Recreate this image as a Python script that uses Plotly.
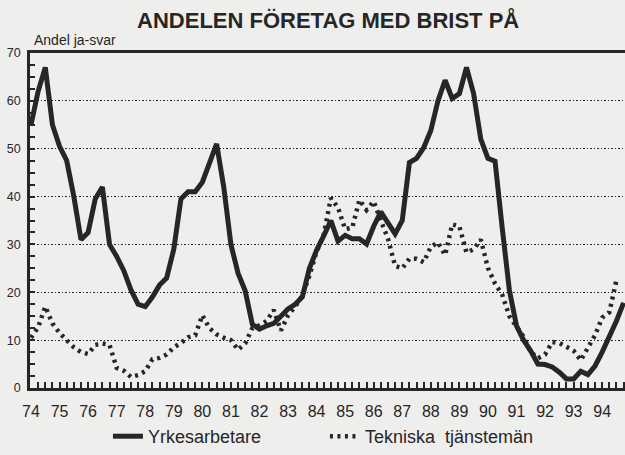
import plotly.graph_objects as go

# Quarterly observations 1974Q1 .. 1994Q4
years = list(range(74, 95))
tick_labels = [str(y) for y in years]
quarters = [y + q * 0.25 for y in years for q in range(4)]

yrkesarbetare = [
    55, 62, 67, 55, 50.5, 47.5, 40, 31, 32.5, 39.5, 42, 30,
    27.5, 24.5, 20.5, 17.5, 17, 19, 21.5, 23, 29, 39.5, 41, 41,
    43, 47, 51, 42, 30, 24, 20.3, 13.3, 12.3, 13, 13.5, 15,
    16.5, 17.5, 19, 25, 28.8, 31.8, 35, 30.7, 31.9, 31.2, 31.2, 30.1,
    33.8, 36.8, 34.3, 32.2, 35, 47.1, 48, 50.2, 53.8, 60, 64.3, 60.5,
    61.5, 67, 61.5, 52, 48, 47.4, 33.5, 20.5, 13, 10, 7.7, 5,
    4.9, 4.4, 3.3, 1.9, 1.9, 3.5, 2.8, 4.6, 7.5, 10.7, 14, 17.8,
]

tekniska = [
    10.5, 12.7, 17, 13.5, 11.5, 10, 8.5, 7.5, 7.1, 9, 9.3, 9,
    4.2, 3.6, 2.3, 2.7, 3.5, 6, 6.3, 7, 8.5, 9.4, 10.6, 11,
    15.2, 12.5, 11.2, 10.5, 10, 8, 9.3, 12.5, 13.1, 14, 16.3, 12,
    15.2, 17, 19.3, 23.5, 28.5, 32, 39.7, 37.7, 33.2, 33.5, 39.3, 37.2,
    39, 35, 31.2, 25.5, 25, 27, 27, 26.3, 29.5, 30.4, 27.8, 34.2,
    33.8, 28.3, 29, 31, 25.1, 21.8, 19.5, 15, 13, 10.7, 7.5, 6.2,
    7, 9.6, 9.4, 8.6, 7.8, 5.8, 8.2, 11, 14.7, 15.8, 22.5, None,
]

ink = "#262626"
bg = "#eeeeec"
font = "Liberation Sans, Arial, Helvetica, sans-serif"

fig = go.Figure()
fig.add_trace(go.Scatter(
    x=quarters, y=yrkesarbetare, name="Yrkesarbetare", mode="lines",
    line=dict(color=ink, width=5), connectgaps=False,
))
fig.add_trace(go.Scatter(
    x=quarters, y=tekniska, name="Tekniska  tjänstemän", mode="lines",
    line=dict(color=ink, width=4.5, dash="3px,4.5px"), connectgaps=False,
))

fig.update_layout(
    width=625, height=455,
    margin=dict(l=30, r=0, t=53, b=64),
    paper_bgcolor=bg, plot_bgcolor=bg,
    font=dict(family=font, color=ink, size=12),
    title=dict(text="<b>ANDELEN FÖRETAG MED BRIST PÅ</b>", x=0.525, xanchor="center",
               y=0.955, yanchor="middle", font=dict(size=22, color=ink, family=font)),
    showlegend=True,
    legend=dict(orientation="h", x=0.131, xanchor="left", y=-0.145, yanchor="middle",
                font=dict(size=18, color=ink, family=font), bgcolor="rgba(0,0,0,0)",
                entrywidth=172, itemwidth=30),
    annotations=[dict(text="Andel ja-svar", xref="paper", yref="paper", x=0.0, y=1.0,
                      xanchor="left", yanchor="bottom", yshift=3, xshift=2, showarrow=False,
                      font=dict(size=14, color=ink, family=font))],
)

fig.update_xaxes(
    range=[73.965, 94.8], tickvals=years, ticktext=tick_labels,
    showgrid=False, zeroline=False,
    showline=True, linecolor=ink, linewidth=2.5, mirror=True,
    ticks="inside", ticklen=6, tickwidth=1.5, tickcolor=ink,
    minor=dict(dtick=0.25, tick0=74, ticks="inside", ticklen=6, tickwidth=1.5, tickcolor=ink, showgrid=False),
    tickfont=dict(size=16, color=ink, family=font),
    ticklabelstandoff=7,
)
fig.update_yaxes(
    range=[0, 70], tickvals=[0, 10, 20, 30, 40, 50, 60, 70],
    showgrid=True, gridcolor=ink, gridwidth=1, griddash="1.5px,2px",
    zeroline=False,
    showline=True, linecolor=ink, linewidth=2.5,
    ticks="inside", ticklen=5, tickwidth=1.5, tickcolor=ink,
    minor=dict(dtick=2.5, ticks="inside", ticklen=5, tickwidth=1.5, tickcolor=ink, showgrid=False),
    tickfont=dict(size=12.5, color=ink, family=font),
    ticklabelstandoff=4,
)

fig.write_html(
    "out.html",
    config={"displayModeBar": False},
    post_script="document.body.style.margin='0px';document.body.style.overflow='hidden';",
)
